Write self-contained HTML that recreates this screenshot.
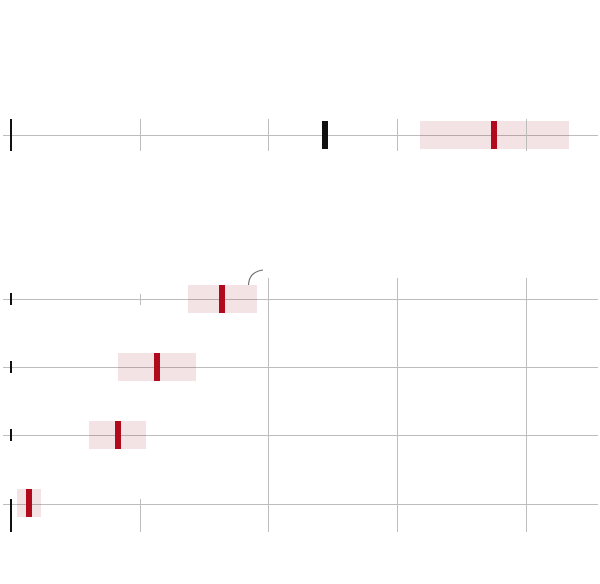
<!DOCTYPE html>
<html><head><meta charset="utf-8"><style>html,body{margin:0;padding:0;background:#fff}svg{display:block}</style></head>
<body>
<svg width="600" height="584" viewBox="0 0 600 584" xmlns="http://www.w3.org/2000/svg">
<g stroke="#bdbdbd" stroke-width="1">
<line x1="3" y1="135.5" x2="598" y2="135.5"/>
<line x1="140.5" y1="119" x2="140.5" y2="151"/>
<line x1="268.5" y1="119" x2="268.5" y2="151"/>
<line x1="397.5" y1="119" x2="397.5" y2="151"/>
<line x1="268.5" y1="278" x2="268.5" y2="532"/>
<line x1="397.5" y1="278" x2="397.5" y2="532"/>
<line x1="526.5" y1="278" x2="526.5" y2="532"/>
<line x1="3" y1="299.5" x2="598" y2="299.5"/>
<line x1="3" y1="367.5" x2="598" y2="367.5"/>
<line x1="3" y1="435.5" x2="598" y2="435.5"/>
<line x1="3" y1="504.5" x2="598" y2="504.5"/>
<line x1="140.5" y1="294" x2="140.5" y2="305"/>
<line x1="140.5" y1="499" x2="140.5" y2="532"/>
</g>
<g fill="#a8182a" fill-opacity="0.12">
<rect x="420" y="121" width="149" height="28"/>
<rect x="188" y="285" width="69" height="28"/>
<rect x="118" y="353" width="78" height="28"/>
<rect x="89" y="421" width="57" height="28"/>
<rect x="17" y="489" width="24" height="28"/>
</g>
<line x1="526.5" y1="119" x2="526.5" y2="151" stroke="#bdbdbd"/>
<g fill="#111">
<rect x="10" y="119" width="2" height="32"/>
<rect x="322" y="121" width="6" height="28"/>
<rect x="10" y="293" width="2" height="12"/>
<rect x="10" y="361" width="2" height="12"/>
<rect x="10" y="429" width="2" height="12"/>
<rect x="10" y="499" width="2" height="33"/>
</g>
<g fill="#b00a1c">
<rect x="491" y="121" width="6" height="28"/>
<rect x="219" y="285" width="6" height="28"/>
<rect x="154" y="353" width="6" height="28"/>
<rect x="115" y="421" width="6" height="28"/>
<rect x="26" y="489" width="6" height="28"/>
</g>
<path d="M248.5 285 Q249 272 263 270" fill="none" stroke="#666" stroke-width="1"/>
</svg>
</body></html>
